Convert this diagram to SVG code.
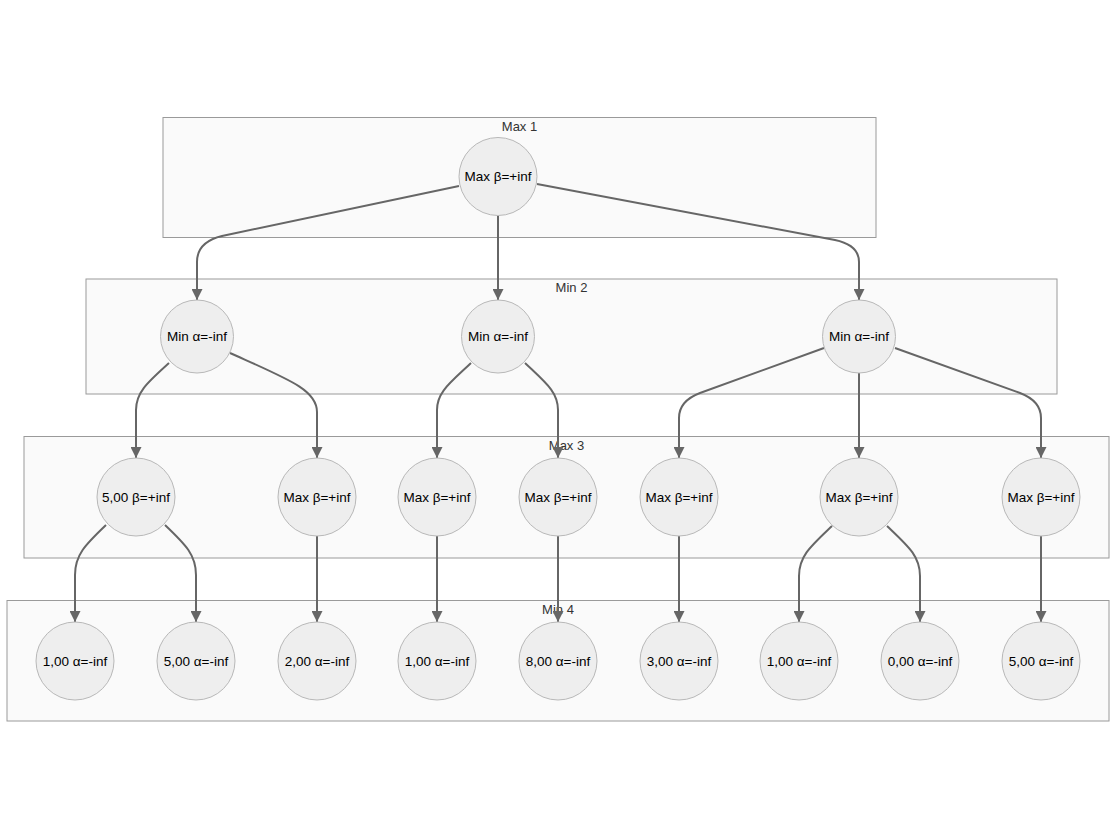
<svg xmlns="http://www.w3.org/2000/svg" width="1116" height="839" viewBox="0 0 1116 839">
<defs>
<style>
.cl{fill:#fafafa;stroke:#9a9a9a;stroke-width:1}
.ct{font-family:"Liberation Sans",Arial,sans-serif;font-size:13px;fill:#333;text-anchor:middle}
.n circle{fill:#eeeeee;stroke:#b8b8b8;stroke-width:1}
.n text{font-family:"Liberation Sans",Arial,sans-serif;font-size:13.5px;fill:#000;text-anchor:middle}
.e path{fill:none;stroke:#666;stroke-width:2;marker-end:url(#ah)}
</style>
<marker id="ah" viewBox="0 0 10 10" refX="10" refY="5" markerUnits="userSpaceOnUse" markerWidth="11" markerHeight="11" orient="auto">
<path d="M0,0 L10,5 L0,10 z" fill="#666"/>
</marker>
</defs>
<rect width="1116" height="839" fill="#ffffff"/>
<g id="clusters">
<g id="c1"><rect class="cl" x="163" y="117.5" width="713" height="120"/><text class="ct" x="519.5" y="130.5">Max 1</text></g>
<g id="c2"><rect class="cl" x="86" y="279" width="971" height="115"/><text class="ct" x="571.5" y="292">Min 2</text></g>
<g id="c3"><rect class="cl" x="24" y="436.5" width="1085" height="121.5"/><text class="ct" x="566.5" y="449.5">Max 3</text></g>
<g id="c4"><rect class="cl" x="7" y="600.5" width="1102" height="120.5"/><text class="ct" x="558" y="613.5">Min 4</text></g>
</g>
<g id="edges" class="e">
<path d="M459,186 L222,236 Q197,242 197,262 L197,300"/>
<path d="M498,216 L498,300"/>
<path d="M537,184 L835,240 Q859,245 859,262 L859,300"/>
<path d="M169,363 C148,382 136,392 136,410 L136,458"/>
<path d="M230,353 C290,380 317,390 317,412 L317,458"/>
<path d="M471,363 C450,383 437,392 437,410 L437,458"/>
<path d="M525,363 C546,383 558,392 558,410 L558,458"/>
<path d="M824,348 L700,393 Q679,401 679,418 L679,458"/>
<path d="M859,373 L859,458"/>
<path d="M895,348 L1020,393 Q1041,401 1041,418 L1041,458"/>
<path d="M106,525 C85,545 75,555 75,575 L75,622"/>
<path d="M165,525 C186,545 196,555 196,575 L196,622"/>
<path d="M317,536 L317,622"/>
<path d="M437,536 L437,622"/>
<path d="M558,536 L558,622"/>
<path d="M679,536 L679,622"/>
<path d="M832,526 C811,546 799,556 799,576 L799,622"/>
<path d="M887,526 C908,546 920,556 920,576 L920,622"/>
<path d="M1041,536 L1041,622"/>
</g>
<g id="n1" class="n"><circle cx="498" cy="176.5" r="39"/><text x="498" y="181">Max β=+inf</text></g>
<g id="n2" class="n"><circle cx="197" cy="336.5" r="36.5"/><text x="197" y="341">Min α=-inf</text></g>
<g id="n3" class="n"><circle cx="498" cy="336.5" r="36.5"/><text x="498" y="341">Min α=-inf</text></g>
<g id="n4" class="n"><circle cx="859" cy="336.5" r="36.5"/><text x="859" y="341">Min α=-inf</text></g>
<g id="n5" class="n"><circle cx="136" cy="497" r="39"/><text x="136" y="501.5">5,00 β=+inf</text></g>
<g id="n6" class="n"><circle cx="317" cy="497" r="39"/><text x="317" y="501.5">Max β=+inf</text></g>
<g id="n7" class="n"><circle cx="437" cy="497" r="39"/><text x="437" y="501.5">Max β=+inf</text></g>
<g id="n8" class="n"><circle cx="558" cy="497" r="39"/><text x="558" y="501.5">Max β=+inf</text></g>
<g id="n9" class="n"><circle cx="679" cy="497" r="39"/><text x="679" y="501.5">Max β=+inf</text></g>
<g id="n10" class="n"><circle cx="859" cy="497" r="39"/><text x="859" y="501.5">Max β=+inf</text></g>
<g id="n11" class="n"><circle cx="1041" cy="497" r="39"/><text x="1041" y="501.5">Max β=+inf</text></g>
<g id="n12" class="n"><circle cx="75" cy="661" r="39"/><text x="75" y="665.5">1,00 α=-inf</text></g>
<g id="n13" class="n"><circle cx="196" cy="661" r="39"/><text x="196" y="665.5">5,00 α=-inf</text></g>
<g id="n14" class="n"><circle cx="317" cy="661" r="39"/><text x="317" y="665.5">2,00 α=-inf</text></g>
<g id="n15" class="n"><circle cx="437" cy="661" r="39"/><text x="437" y="665.5">1,00 α=-inf</text></g>
<g id="n16" class="n"><circle cx="558" cy="661" r="39"/><text x="558" y="665.5">8,00 α=-inf</text></g>
<g id="n17" class="n"><circle cx="679" cy="661" r="39"/><text x="679" y="665.5">3,00 α=-inf</text></g>
<g id="n18" class="n"><circle cx="799" cy="661" r="39"/><text x="799" y="665.5">1,00 α=-inf</text></g>
<g id="n19" class="n"><circle cx="920" cy="661" r="39"/><text x="920" y="665.5">0,00 α=-inf</text></g>
<g id="n20" class="n"><circle cx="1041" cy="661" r="39"/><text x="1041" y="665.5">5,00 α=-inf</text></g>
</svg>
